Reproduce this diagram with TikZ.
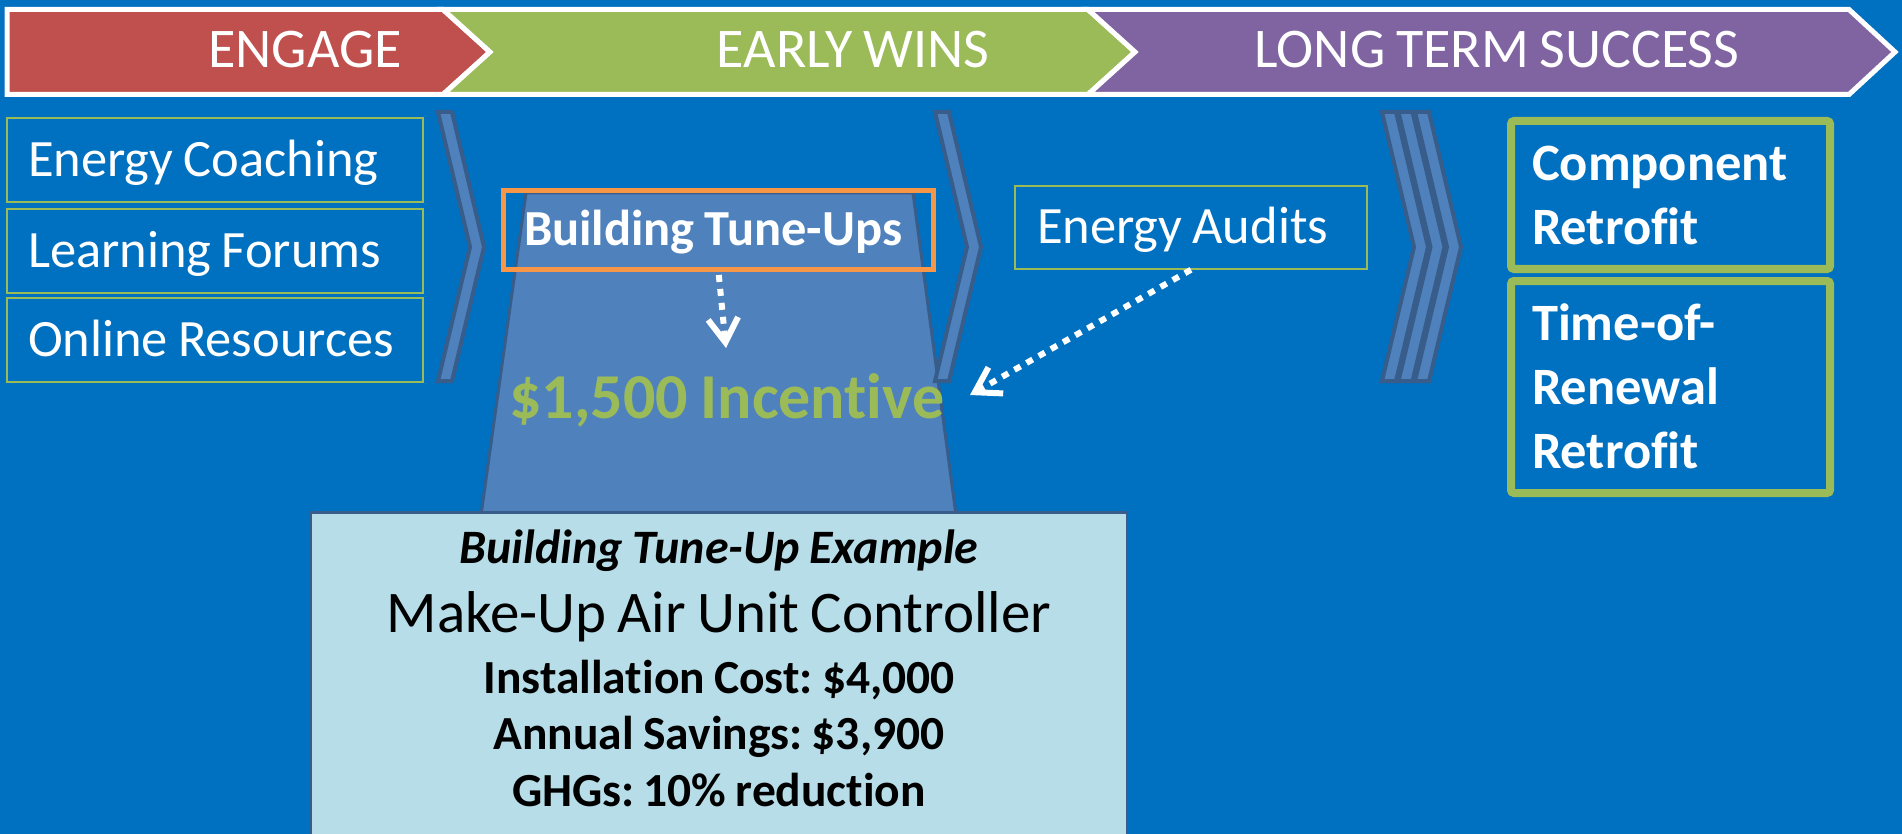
\documentclass[tikz,border=0pt]{standalone}
\usepackage{fontspec}
\setmainfont{Carlito}[Ligatures=NoCommon, WordSpace=0.85]
\frenchspacing
\newcommand\normsp{\spaceskip=0pt\xspaceskip=0pt\relax}
\usetikzlibrary{arrows.meta}
\definecolor{bgblue}{RGB}{0,112,192}
\definecolor{engred}{HTML}{C0504D}
\definecolor{accgreen}{HTML}{9BBB59}
\definecolor{accpurple}{HTML}{8064A2}
\definecolor{chevfill}{HTML}{4F81BD}
\definecolor{chevline}{HTML}{385D8A}
\definecolor{accorange}{HTML}{F79646}
\definecolor{lightaqua}{HTML}{B7DDE8}
\begin{document}
\begin{tikzpicture}[x=1pt,y=-1pt,
  bannerseg/.style={draw=white, line width=5pt, line join=miter},
  bannertext/.style={anchor=base, text=white, inner sep=0pt, font=\fontsize{56}{60}\selectfont},
  chev/.style={fill=chevfill, draw=chevline, line width=4pt, line join=miter},
  leftbox/.style={draw=accgreen, line width=1.5pt, minimum width=416pt, minimum height=84pt,
    text width=374pt, inner xsep=21pt, inner ysep=0pt, align=left, text=white,
    font=\fontsize{52.5}{60}\selectfont, text height=33pt, text depth=0pt},
  auditbox/.style={draw=accgreen, line width=1.5pt, minimum width=352pt, minimum height=83pt,
    text width=308pt, inner xsep=22pt, inner ysep=0pt, align=left, text=white,
    font=\fontsize{52.5}{60}\selectfont, text height=32pt, text depth=0pt},
  tunebox/.style={draw=accorange, line width=5pt, minimum width=430pt, minimum height=79pt,
    text width=389pt, inner xsep=20.5pt, inner ysep=0pt, align=left, text=white,
    font=\bfseries\fontsize{50.5}{60}\selectfont, text height=32pt, text depth=0pt},
  rightbox/.style={draw=accgreen, line width=8pt, rounded corners=3pt, minimum width=319pt,
    text width=277pt, inner xsep=21pt, inner ysep=0pt, align=left, text=white,
    font=\bfseries\fontsize{52.5}{64}\selectfont, text height=31pt},
  dotarrow/.style={draw=white, line width=6pt, dash pattern=on 7pt off 7pt,
    -{Straight Barb[length=24pt,width=30pt,sharp]}},
  exbox/.style={fill=lightaqua, draw=chevline, line width=2.5pt, minimum width=816pt, minimum height=340pt},
  extext/.style={anchor=base, text=black, inner sep=0pt}
]
\useasboundingbox (0,0) rectangle (1902,834);
\fill[bgblue] (0,0) rectangle (1902,834);

% banner
\draw[bannerseg, fill=engred] (7,9.5) -- (443,9.5) -- (490,52) -- (443,94.5) -- (7,94.5) -- cycle;
\draw[bannerseg, fill=accgreen] (443,9.5) -- (1088,9.5) -- (1135,52) -- (1088,94.5) -- (443,94.5) -- (490,52) -- cycle;
\draw[bannerseg, fill=accpurple] (1088,9.5) -- (1849,9.5) -- (1895,52) -- (1849,94.5) -- (1088,94.5) -- (1135,52) -- cycle;
\node[bannertext] (engage) at (305,68) {ENGAGE};
\node[bannertext] (early) at (853,68) {EARLY WINS};
\node[bannertext] (longterm) at (1497,68) {LONG TERM SUCCESS};

% funnel behind tune-ups
\draw[fill=chevfill, draw=chevline, line width=3pt] (526,193) -- (913,193) -- (956,515) -- (481,515) -- cycle;

% chevrons
\foreach \s in {0,497,944,960.5,977} {
  \draw[chev, shift={(\s,0)}] (438,112) -- (452,112) -- (484,247) -- (452,381) -- (438,381) -- (470,247) -- cycle;
}

% left boxes
\node[leftbox] (coach) at (215,160) {\normsp Energy Coaching};
\node[leftbox] (forum) at (215,251) {\normsp Learning Forums};
\node[leftbox] (online) at (215,340) {\normsp Online Resources};

% early wins
\node[tunebox] (tune) at (718.5,230) {\normsp Building Tune-Ups};
\node[auditbox] (audits) at (1191,227.5) {\normsp Energy Audits};
\node[anchor=base, inner sep=0pt, text=accgreen, font=\bfseries\fontsize{64}{68}\selectfont] (incent) at (727,418) {\$1,500 Incentive};

% long term
\node[rightbox, minimum height=148pt, text depth=59pt] (comp) at (1670.5,195) {Component\\Retrofit};
\node[rightbox, minimum height=212pt, text depth=125pt] (renew) at (1670.5,387) {Time-of-\\Renewal\\Retrofit};

% arrows
\coordinate (tipA) at (726,348);
\coordinate (tipB) at (970,395);
\draw[dotarrow, shorten <=3pt] (tune.south) -- (tipA);
\draw[dotarrow] (audits.south) -- (tipB);

% example box
\node[exbox, anchor=north] (ex) at (719,511) {};
\node[extext, font=\bfseries\itshape\fontsize{48}{50}\selectfont] (extitle) at (719,563) {Building Tune-Up Example};
\node[extext, font=\fontsize{59}{60}\selectfont] (exname) at (719,632) {Make-Up Air Unit Controller};
\node[extext, font=\bfseries\fontsize{47.5}{50}\selectfont] (excost) at (719,693) {Installation Cost: \$4,000};
\node[extext, font=\bfseries\fontsize{47.5}{50}\selectfont] (exsave) at (719,749) {Annual Savings: \$3,900};
\node[extext, font=\bfseries\fontsize{47.5}{50}\selectfont] (exghg) at (719,806) {GHGs: 10\% reduction};
\end{tikzpicture}
\end{document}
